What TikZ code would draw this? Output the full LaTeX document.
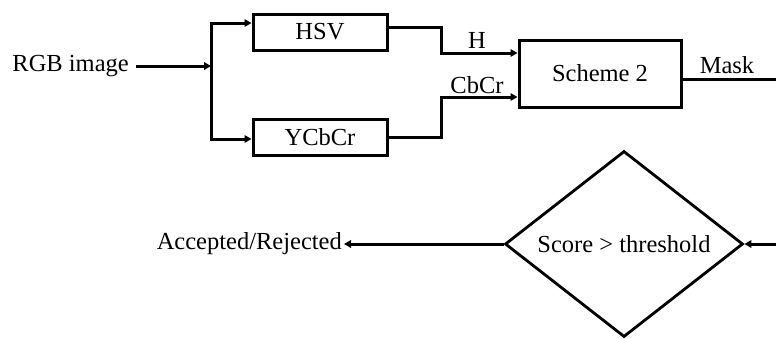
\documentclass[tikz,border=0pt]{standalone}
\usepackage{fontspec}
\setmainfont{Liberation Serif}
\usetikzlibrary{arrows.meta,shapes.geometric}
\begin{document}
\begin{tikzpicture}[x=1pt,y=-1pt,
  every node/.style={font=\fontsize{24.5}{28}\selectfont, inner sep=0pt},
  block/.style={draw, line width=3pt, minimum width=134pt, minimum height=36pt},
  wire/.style={line width=3pt},
  flow/.style={wire, -{Triangle[length=7pt,width=7.5pt]}},
  decision/.style={draw, diamond, line width=2.8pt, aspect=1.28,
    minimum width=238pt, minimum height=186pt}]
\useasboundingbox (0,0) rectangle (776,338);

% colour-space conversion stage
\node[anchor=east] (rgb) at (129,66) {RGB image};
\coordinate (split) at (211,66);
\node[block] (hsv) at (320,32) {HSV};
\node[block] (ycc) at (320,137) {YCbCr};

% segmentation scheme
\node[block, minimum width=162pt, minimum height=67pt] (sch) at (600,73.5) {Scheme 2};
\node (hlab) at (477,40) {H};
\node (cblab) at (477,85) {CbCr};
\node (mlab) at (727,65) {Mask};
\coordinate (maskend) at (778,79);

% decision stage
\node[decision] (dec) at (624,244) {Score > threshold};
\coordinate (fbin) at (778,244);
\node[anchor=east] (out) at (342,244) {Accepted/Rejected};

% connectors
\draw[flow, shorten <=7pt] (rgb.east) -- (split);
\draw[flow] (split) |- ([yshift=9pt]hsv.west);
\draw[flow] (split) |- ([yshift=-2pt]ycc.west);
\draw[flow] ([yshift=5pt]hsv.east) -- ++(53,0) |- ([yshift=20.5pt]sch.west);
\draw[flow] (ycc.east) -- ++(53,0) |- ([yshift=-23.5pt]sch.west);
\draw[wire] ([yshift=-5.5pt]sch.east) -- (maskend);
\draw[flow] (fbin) -- (dec.east);
\draw[flow, shorten >=2pt] (dec.west) -- (out.east);
\end{tikzpicture}
\end{document}
